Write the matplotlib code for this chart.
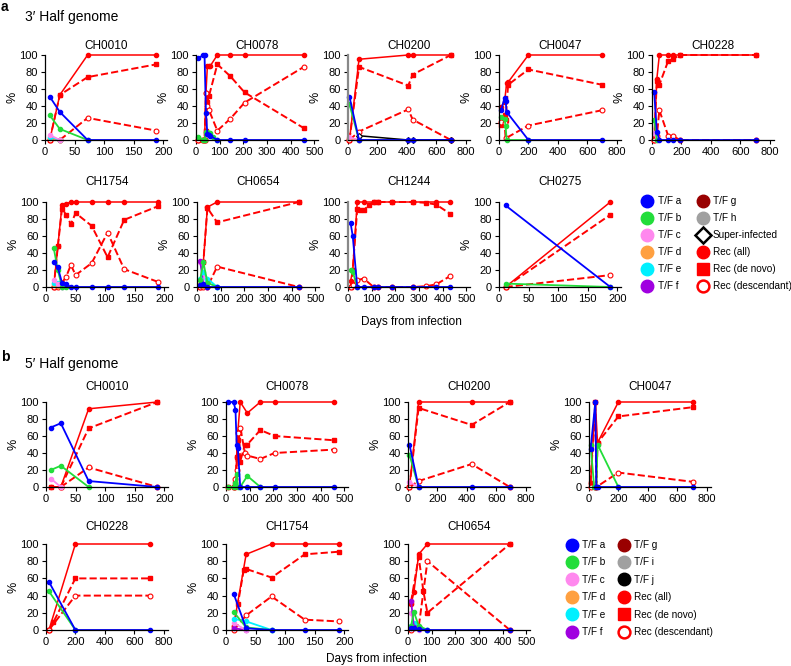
import matplotlib
matplotlib.use('Agg')
import matplotlib.pyplot as plt
from matplotlib.lines import Line2D

plt.rcParams['font.family'] = ['Liberation Sans', 'DejaVu Sans']

# ----------------- a: 3' half genome -----------------
a0010_day  = [8, 25, 72, 188]
a0010_all  = [0, 53, 100, 100]
a0010_novo = [0, 53, 74, 89]
a0010_desc = [0, 0, 26, 11]
a0010_a    = [51, 33, 0, 0]
a0010_b    = [29, 13, 0]
a0010_c    = [6, 0]
a0010_d    = [2, 0]
a0010_e    = [4, 0]

a0078_day  = [10, 30, 36, 42, 48, 55, 60, 70, 90, 145, 205, 455]
a0078_a    = [96, 100, 100, 32, 7, 6, 5, None, 0, 0, 0, 0]
a0078_b    = [4, 0, 0, 10, 9, 8, 8, 4, 0]
a0078_all  = [0, 0, 0, 55, 87, 87, 87, None, 100, 100, 100, 100]
a0078_novo = [0, 0, 0, 11, 45, 52, None, None, 89, 75, 56, 14]
a0078_desc = [0, 0, 0, 55, 40, 35, None, None, 11, 25, 44, 86]

a0200_day  = [10, 75, 410, 440, 700]
a0200_a    = [51, 0, 0, 0, 0]
a0200_b    = [42, 0]
a0200_c    = [3, 0]
a0200_d    = [2, 0]
a0200_sup  = [None, 5, 0, 0, 0]
a0200_all  = [0, 95, 100, 100, 100]
a0200_novo = [0, 86, 64, 77, 100]
a0200_desc = [0, 10, 36, 24, 0]

a0047_day  = [15, 38, 45, 52, 62, 200, 700]
a0047_a    = [35, 50, 46, 33, None, 0, 0]
a0047_b    = [27, 25, 16, 0, None, 0]
a0047_all  = [39, 45, None, 67, 68, 100, 100]
a0047_novo = [18, 29, 24, None, 65, 83, 65]
a0047_desc = [21, 20, 2, None, None, 17, 35]

a0228_day  = [15, 33, 50, 110, 140, 190, 710]
a0228_a    = [56, 10, 0, 0, 0, 0, 0]
a0228_b    = [24, 0]
a0228_c    = [8, 0]
a0228_all  = [0, 72, 100, 100, 100, 100, 100]
a0228_novo = [0, 70, 65, 93, 95, 100, 100]
a0228_desc = [0, 5, 35, 5, 5, 0, 0]

a1754_day  = [13, 20, 27, 34, 42, 50, 77, 104, 132, 189]
a1754_all  = [0, 48, 96, 98, 100, 100, 100, 100, 100, 100]
a1754_novo = [0, 48, 92, 85, 74, 87, 72, 35, 79, 95]
a1754_desc = [0, 0, 5, 12, 26, 14, 28, 64, 21, 6]
a1754_a    = [29, 23, 5, 3, 0, 0, 0, 0, 0, 0]
a1754_b    = [46, 20, 0, 0]
a1754_c    = [8, 3, 0]
a1754_d    = [3, 1, 0]
a1754_e    = [5, 5, 0]

a0654_day  = [13, 27, 44, 85, 430]
a0654_all  = [0, 30, 94, 100, 100]
a0654_novo = [0, 30, 93, 76, 100]
a0654_desc = [0, 0, 0, 24, 0]
a0654_a    = [2, 4, 0, 0, 0]
a0654_b    = [8, 29, 5, 0]
a0654_c    = [30, 15, 0]
a0654_d    = [3, 1, 0]
a0654_e    = [10, 18, 10, 0]
a0654_f    = [31, 3, 0]

a1244_day  = [11, 20, 39, 49, 66, 90, 108, 125, 186, 276, 330, 372, 432]
a1244_all  = [7, 20, 100, None, 100, None, 100, 100, 100, 100, None, 100, 100]
a1244_novo = [0, 20, 92, 91, 90, 97, 100, 100, 100, 100, 99, 97, 86]
a1244_desc = [0, 2, 8, None, 10, None, 0, 0, 0, 0, 1, 3, 13]
a1244_a    = [75, 60, 0, None, 0, None, 0, 0, 0, 0, None, 0, 0]
a1244_b    = [20, 18, 0]

a0275_day  = [11, 188]
a0275_a    = [96, 0]
a0275_b    = [4, 0]
a0275_all  = [0, 100]
a0275_novo = [0, 85]
a0275_desc = [0, 14]

# ----------------- b: 5' half genome -----------------
b0010_day  = [8, 25, 72, 188]
b0010_a    = [70, 75, 7, 0]
b0010_b    = [20, 25, 0]
b0010_c    = [10, 0]
b0010_all  = [0, 0, 92, 100]
b0010_novo = [0, 0, 69, 100]
b0010_desc = [None, 0, 23, 0]

b0078_day  = [10, 32, 40, 45, 50, 55, 60, 80, 90, 145, 205, 455]
b0078_a    = [100, 100, 91, 50, 46, None, 0, None, 0, 0, 0, 0]
b0078_b    = [0, 0, 5, 15, 0, None, 0, None, 13, 0]
b0078_all  = [0, 0, 0, 35, 65, None, 100, None, 87, 100, 100, 100]
b0078_novo = [0, 0, 5, 35, 55, 65, 30, 50, 50, 67, 60, 55]
b0078_desc = [None, 0, 9, 20, 64, None, 70, 40, 37, 33, 40, 44]

b0200_day  = [10, 72, 433, 692]
b0200_a    = [50, 0, 0, 0]
b0200_b    = [38, 0]
b0200_c    = [6, 0]
b0200_all  = [0, 100, 100, 100]
b0200_novo = [0, 93, 73, 100]
b0200_desc = [0, 7, 27, 0]

b0047_day  = [11, 35, 43, 50, 58, 200, 710]
b0047_a    = [45, None, 100, 0, 0, 0, 0]
b0047_b    = [50, 0, None, 0, 50, 0]
b0047_all  = [5, None, 100, None, 52, 100, 100]
b0047_novo = [5, None, 100, 0, 52, 83, 94]
b0047_desc = [0, None, 0, 0, None, 17, 6]

b0228_day  = [20, 50, 200, 710]
b0228_a    = [56, None, 0, 0]
b0228_b    = [45, None, 0]
b0228_all  = [0, None, 100, 100]
b0228_novo = [0, 9, 60, 60]
b0228_desc = [0, None, 40, 40]

b1754_day  = [13, 20, 30, 34, 77, 133, 190]
b1754_a    = [42, None, None, 2, 0, 0, 0]
b1754_b    = [21, None, None, 3, 0]
b1754_c    = [8, None, None, 0]
b1754_e    = [13, None, None, 10, 0]
b1754_f    = [2, None, None, 0]
b1754_all  = [5, None, None, 88, 100, 100, 100]
b1754_novo = [3, 30, 70, 71, 61, 88, 91]
b1754_desc = [0, None, None, 17, 39, 12, 10]

b0654_day  = [13, 25, 45, 65, 82, 430]
b0654_a    = [2, 2, 1, None, 0, 0]
b0654_b    = [5, 21, 5, None, 0]
b0654_c    = [20, 5, 0]
b0654_e    = [5, 8, 3, None, 0]
b0654_f    = [34, 3]
b0654_all  = [30, 44, 88, None, 100, 100]
b0654_novo = [33, None, 85, 45, 20, 100]
b0654_desc = [0, 3, 3, None, 80, 0]

# ----------------- styles -----------------
tf_col = {'a': '#0000ff', 'b': '#22dd3a', 'c': '#ff88ee', 'd': '#ffa040',
          'e': '#00f0ff', 'f': '#a000e0', 'g': '#990000', 'h': '#a0a0a0',
          'i': '#a0a0a0', 'j': '#000000'}
sty = {k: dict(color=c, lw=1.3, marker='o', ms=3) for k, c in tf_col.items()}
sty['sup'] = dict(color='black', lw=1.1, marker='D', ms=3, mfc='white', mew=0.8)
sty['all'] = dict(color='#ff0000', lw=1.1, marker='o', ms=3)
sty['novo'] = dict(color='#ff0000', lw=1.4, ls='--', marker='s', ms=3.5)
sty['desc'] = dict(color='#ff0000', lw=1.4, ls='--', marker='o', ms=3.5, mfc='white', mew=0.8)

W, H = 791, 666
fig = plt.figure(figsize=(W / 100, H / 100), dpi=100)

xr = {200: (206, 50), 500: (515, 100), 800: (830, 200)}


def panel(left, top, bottom, title, ttl_y, rng, day, series, gray_spine=False):
    ax = fig.add_axes([left / W, (H - bottom) / H, 122 / W, (bottom - top) / H])
    for key, vals in series:
        x = [d for d, v in zip(day, vals) if v is not None]
        y = [v for v in vals if v is not None]
        ax.plot(x, y, clip_on=False, **sty[key])
    xmax, step = xr[rng]
    ax.set_xlim(0, xmax)
    ax.set_ylim(0, 100)
    ax.set_xticks(range(0, rng + 1, step))
    ax.set_yticks(range(0, 101, 20))
    for s in ['top', 'right']:
        ax.spines[s].set_visible(False)
    for s in ['left', 'bottom']:
        ax.spines[s].set_linewidth(0.9)
    if gray_spine:
        ax.spines['left'].set_color('#888888')
        ax.spines['left'].set_linewidth(1.6)
    ax.tick_params(labelsize=8, length=3, width=0.8, pad=2)
    ax.set_ylabel('%', fontsize=9, labelpad=1)
    fig.text((left + 61) / W, 1 - ttl_y / H, title, ha='center', va='center', fontsize=8.5)
    return ax


red = lambda p: [('all', p[0]), ('novo', p[1]), ('desc', p[2])]

# row a1
panel(45, 55, 140, 'CH0010', 46, 200, a0010_day,
      red([a0010_all, a0010_novo, a0010_desc]) +
      [('d', a0010_d), ('e', a0010_e), ('c', a0010_c), ('b', a0010_b), ('a', a0010_a)])
panel(196, 55, 140, 'CH0078', 46, 500, a0078_day,
      red([a0078_all, a0078_novo, a0078_desc]) + [('b', a0078_b), ('a', a0078_a)])
panel(348, 55, 140, 'CH0200', 46, 800, a0200_day,
      red([a0200_all, a0200_novo, a0200_desc]) +
      [('d', a0200_d), ('c', a0200_c), ('b', a0200_b), ('sup', a0200_sup), ('a', a0200_a)],
      gray_spine=True)
panel(499, 55, 140, 'CH0047', 46, 800, a0047_day,
      red([a0047_all, a0047_novo, a0047_desc]) + [('b', a0047_b), ('a', a0047_a)])
panel(652, 55, 140, 'CH0228', 46, 800, a0228_day,
      red([a0228_all, a0228_novo, a0228_desc]) + [('c', a0228_c), ('b', a0228_b), ('a', a0228_a)])

# row a2
panel(46, 202, 287, 'CH1754', 182, 200, a1754_day,
      red([a1754_all, a1754_novo, a1754_desc]) +
      [('d', a1754_d), ('e', a1754_e), ('c', a1754_c), ('b', a1754_b), ('a', a1754_a)])
panel(197, 202, 287, 'CH0654', 182, 500, a0654_day,
      red([a0654_all, a0654_novo, a0654_desc]) +
      [('d', a0654_d), ('c', a0654_c), ('f', a0654_f), ('e', a0654_e), ('b', a0654_b), ('a', a0654_a)])
panel(348, 202, 287, 'CH1244', 182, 500, a1244_day,
      red([a1244_all, a1244_novo, a1244_desc]) + [('b', a1244_b), ('a', a1244_a)],
      gray_spine=True)
panel(499, 202, 287, 'CH0275', 182, 200, a0275_day,
      red([a0275_all, a0275_novo, a0275_desc]) + [('b', a0275_b), ('a', a0275_a)])

# row b1
panel(46, 402, 487, 'CH0010', 387, 200, b0010_day,
      red([b0010_all, b0010_novo, b0010_desc]) + [('c', b0010_c), ('b', b0010_b), ('a', b0010_a)])
panel(226, 402, 487, 'CH0078', 387, 500, b0078_day,
      red([b0078_all, b0078_novo, b0078_desc]) + [('b', b0078_b), ('a', b0078_a)])
panel(408, 402, 487, 'CH0200', 387, 800, b0200_day,
      red([b0200_all, b0200_novo, b0200_desc]) + [('c', b0200_c), ('b', b0200_b), ('a', b0200_a)])
panel(589, 402, 487, 'CH0047', 387, 800, b0047_day,
      red([b0047_all, b0047_novo, b0047_desc]) + [('b', b0047_b), ('a', b0047_a)])

# row b2
panel(46, 544, 630, 'CH0228', 527, 800, b0228_day,
      red([b0228_all, b0228_novo, b0228_desc]) + [('b', b0228_b), ('a', b0228_a)])
panel(226, 544, 630, 'CH1754', 527, 200, b1754_day,
      red([b1754_all, b1754_novo, b1754_desc]) +
      [('f', b1754_f), ('c', b1754_c), ('e', b1754_e), ('b', b1754_b), ('a', b1754_a)])
panel(408, 544, 630, 'CH0654', 527, 500, b0654_day,
      red([b0654_all, b0654_novo, b0654_desc]) +
      [('c', b0654_c), ('e', b0654_e), ('f', b0654_f), ('b', b0654_b), ('a', b0654_a)])

# section labels
fig.text(1 / W, 1 - 7 / H, 'a', fontsize=10, fontweight='bold', va='center')
fig.text(25 / W, 1 - 17 / H, '3\u2032 Half genome', fontsize=10, va='center')
fig.text(1 / W, 1 - 357 / H, 'b', fontsize=10, fontweight='bold', va='center')
fig.text(25 / W, 1 - 364 / H, '5\u2032 Half genome', fontsize=10, va='center')
fig.text(411 / W, 1 - 322 / H, 'Days from infection', fontsize=8.5, ha='center', va='center')
fig.text(376 / W, 1 - 659 / H, 'Days from infection', fontsize=8.5, ha='center', va='center')


# legends
def h(key, label):
    if key == 'sup':
        return Line2D([], [], ls='none', marker='D', ms=8, mfc='white', mec='black', mew=1.8, label=label)
    if key == 'novo':
        return Line2D([], [], ls='none', marker='s', ms=9, color='#ff0000', label=label)
    if key == 'desc':
        return Line2D([], [], ls='none', marker='o', ms=8.5, mfc='white', mec='#ff0000', mew=1.8, label=label)
    c = '#ff0000' if key == 'all' else tf_col[key]
    return Line2D([], [], ls='none', marker='o', ms=9, color=c, label=label)


leg_a = [h('a', 'T/F a'), h('b', 'T/F b'), h('c', 'T/F c'), h('d', 'T/F d'), h('e', 'T/F e'), h('f', 'T/F f'),
         h('g', 'T/F g'), h('h', 'T/F h'), h('sup', 'Super-infected'), h('all', 'Rec (all)'),
         h('novo', 'Rec (de novo)'), h('desc', 'Rec (descendant)')]
leg_b = [h('a', 'T/F a'), h('b', 'T/F b'), h('c', 'T/F c'), h('d', 'T/F d'), h('e', 'T/F e'), h('f', 'T/F f'),
         h('g', 'T/F g'), h('i', 'T/F i'), h('j', 'T/F j'), h('all', 'Rec (all)'),
         h('novo', 'Rec (de novo)'), h('desc', 'Rec (descendant)')]

for hs, x0, y0, cs, ls in [(leg_a, 641, 196, 1.55, 0.7), (leg_b, 566, 540, 1.2, 0.74)]:
    fig.legend(handles=hs, ncol=2, loc='upper left', bbox_to_anchor=(x0 / W, 1 - y0 / H),
               frameon=False, fontsize=7.2, handlelength=1.25, handletextpad=0.4,
               columnspacing=cs, labelspacing=ls, borderpad=0, borderaxespad=0)

fig.savefig('out.png', dpi=100)
